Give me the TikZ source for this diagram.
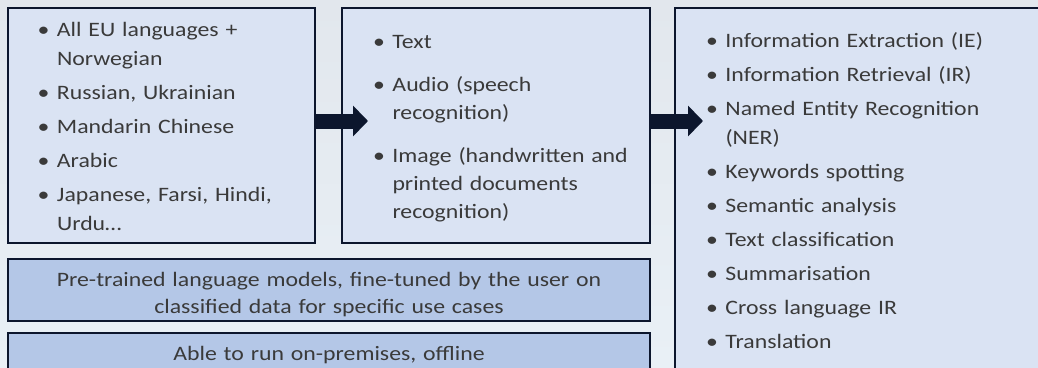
\documentclass[tikz,border=0pt]{standalone}
\usepackage{fontspec}
\setmainfont{Carlito}[FakeStretch=1.16]
\usepackage{tikz}
\usetikzlibrary{arrows.meta,positioning}
\definecolor{paneblue}{RGB}{218,227,243}
\definecolor{bandblue}{RGB}{180,199,231}
\definecolor{navy}{RGB}{12,22,45}
\definecolor{inkgrey}{RGB}{58,58,58}
\definecolor{bgtop}{RGB}{226,231,237}
\definecolor{bgbot}{RGB}{233,240,246}
\newcommand{\itm}[1]{\noindent\hangindent=18pt\hangafter=1\hbox to 18pt{\kern-1.5pt\textbullet\hfil}#1\par}

\begin{document}
\begin{tikzpicture}[x=1pt,y=1pt,
   panel/.style={draw=navy,line width=2.2pt,fill=paneblue,outer sep=0pt,inner ysep=0pt,align=left,text=inkgrey,
     font={\fontsize{20.5}{29}\selectfont\setlength{\parskip}{5pt}}},
   band/.style={draw=navy,line width=2.2pt,fill=bandblue,outer sep=0pt,inner xsep=10pt,inner ysep=0pt,
     text width=622pt,align=center,text=inkgrey,text height=27pt,font=\fontsize{20.5}{27}\selectfont},
   flow/.style={navy,line width=15pt,-{Triangle[length=15pt,width=30pt]}}]
  \useasboundingbox (0,0) rectangle (1038,-367);
  \clip (0,0) rectangle (1038,-367);
  \shade[top color=bgtop,bottom color=bgbot] (0,0) rectangle (1038,-367);
  % top row
  \node[panel,inner xsep=31pt,text width=245pt,text height=28pt,text depth=207pt,anchor=north west] (langs) at (8,-8)
    {\itm{All EU languages +\newline Norwegian}
     \itm{Russian, Ukrainian}
     \itm{Mandarin Chinese}
     \itm{Arabic}
     \itm{Japanese, Farsi, Hindi,\newline Urdu…}};
  \node[panel,inner xsep=32.5pt,text width=243pt,text height=40pt,text depth=195pt,
        font={\fontsize{20.5}{28}\selectfont\setlength{\parskip}{15pt}},
        right=27pt of langs.north east,anchor=north west] (media)
    {\itm{Text}
     \itm{Audio (speech\newline recognition)}
     \itm{\mbox{Image (handwritten and}\newline printed documents\newline recognition)}};
  \node[panel,inner xsep=32.5pt,text width=335pt,text height=39pt,text depth=333pt,
        right=25pt of media.north east,anchor=north west] (tasks)
    {\itm{Information Extraction (IE)}
     \itm{Information Retrieval (IR)}
     \itm{Named Entity Recognition\newline (NER)}
     \itm{Keywords spotting}
     \itm{Semantic analysis}
     \itm{Text classification}
     \itm{Summarisation}
     \itm{Cross language IR}
     \itm{Translation}};
  % bottom bands
  \node[band,text depth=35pt,below=16pt of langs.south west,anchor=north west] (pretrain)
    {Pre-trained language models, fine-tuned by the user on\\classified data for specific use cases};
  \node[band,text depth=21pt,below=12pt of pretrain.south west,anchor=north west] (offline)
    {Able to run on-premises, offline};
  % arrows
  \draw[flow,shorten >=-26pt] ([yshift=4.5pt]langs.east) -- ([yshift=4.5pt]media.west);
  \draw[flow,shorten >=-28pt] ([yshift=4.5pt]media.east) -- ([yshift=4.5pt]media.east -| tasks.west);
\end{tikzpicture}
\end{document}
